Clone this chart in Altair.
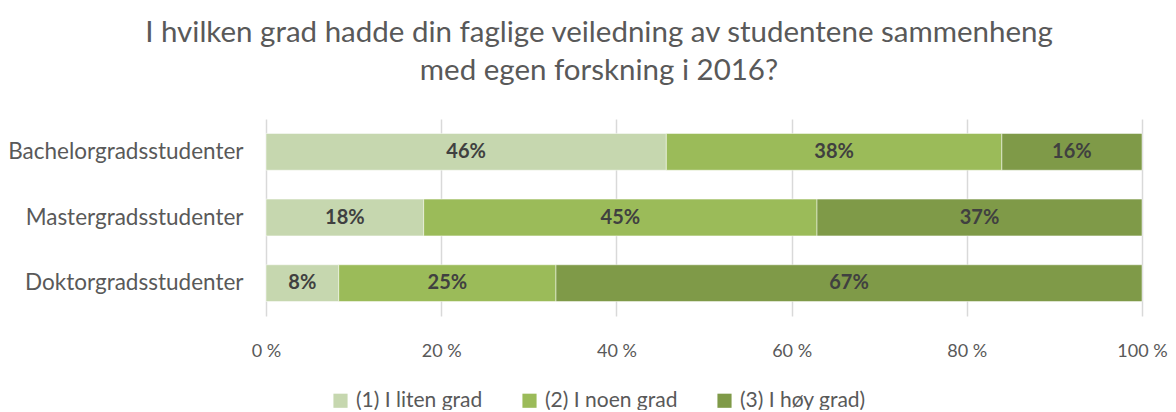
import altair as alt
import pandas as pd

categories = ["Bachelorgradsstudenter", "Mastergradsstudenter", "Doktorgradsstudenter"]
series = ["(1) I liten grad", "(2) I noen grad", "(3) I høy grad)"]
values = {
    "(1) I liten grad": [45.7, 18.0, 8.3],
    "(2) I noen grad": [38.3, 44.9, 24.8],
    "(3) I høy grad)": [16.0, 37.1, 66.9],
}
labels = {
    "(1) I liten grad": ["46%", "18%", "8%"],
    "(2) I noen grad": ["38%", "45%", "25%"],
    "(3) I høy grad)": ["16%", "37%", "67%"],
}
colors = ["#C6D7AF", "#9BBB59", "#7F9A48"]
xticks = [0, 20, 40, 60, 80, 100]

rows = []
for si, s in enumerate(series):
    for ci, c in enumerate(categories):
        rows.append({"cat": c, "series": s, "idx": si, "value": values[s][ci], "label": labels[s][ci]})
df = pd.DataFrame(rows)

FONT = "Lato, Open Sans, sans-serif"

base = alt.Chart(df).transform_stack(
    stack="value", as_=["x0", "x1"], groupby=["cat"], sort=[alt.SortField("idx", order="ascending")]
).transform_calculate(mid="(datum.x0 + datum.x1) / 2")

yenc = alt.Y("cat:N", sort=categories, title=None,
             scale=alt.Scale(paddingInner=0.44, paddingOuter=0.22),
             axis=alt.Axis(domain=False, ticks=False, labelFontSize=22.5, labelColor="#595959",
                           labelFont=FONT, labelPadding=23, grid=False, labelLimit=0))

bars = base.mark_bar(stroke="white", strokeWidth=0.5).encode(
    x=alt.X("x0:Q", title=None, scale=alt.Scale(domain=[0, 100], nice=False),
            axis=alt.Axis(values=xticks, labelExpr="datum.value + ' %'", domain=False, ticks=False,
                          grid=True, gridColor="#D9D9D9", gridWidth=1.5, labelFontSize=18,
                          labelColor="#595959", labelFont=FONT, labelPadding=26,
                          labelFlush=False, labelOverlap=False)),
    x2="x1:Q",
    y=yenc,
    color=alt.Color("series:N", sort=series, scale=alt.Scale(domain=series, range=colors),
                    legend=alt.Legend(title=None, orient="none", direction="horizontal",
                                      legendX=64, legendY=271, symbolType="square", symbolSize=200,
                                      symbolStrokeWidth=0, labelFontSize=21, labelColor="#595959",
                                      labelFont=FONT, columnPadding=36, labelOffset=5)),
    order=alt.Order("idx:Q"),
)

text = base.mark_text(fontSize=20, fontWeight="bold", color="#404040", font=FONT).encode(
    x=alt.X("mid:Q"),
    y=alt.Y("cat:N", sort=categories),
    text="label:N",
)

chart = alt.layer(bars, text).properties(
    width=876, height=197,
    autosize=alt.AutoSizeParams(type="none"),
    padding={"left": 258, "top": 111, "right": 26, "bottom": 94},
    title=alt.TitleParams(
        text=["I hvilken grad hadde din faglige veiledning av studentene sammenheng",
              "med egen forskning i 2016?"],
        fontSize=29.5, font=FONT, fontWeight="normal", color="#595959",
        anchor="middle", dx=-105, offset=33, lineHeight=38,
    ),
).configure_view(stroke=None)

chart.save("out.html", embed_options={"renderer": "svg", "actions": False})
